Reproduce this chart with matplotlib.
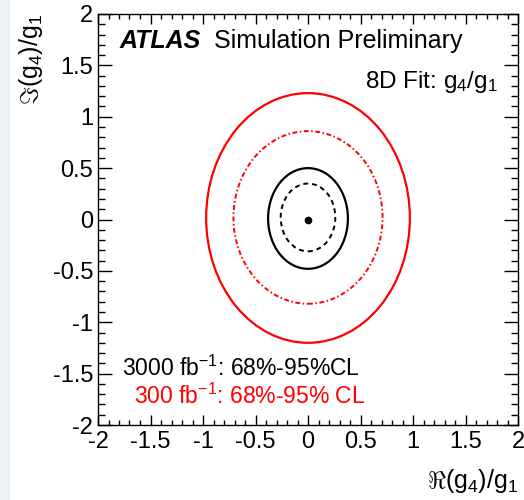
import matplotlib
matplotlib.use("Agg")
import matplotlib.pyplot as plt
from matplotlib.patches import Ellipse, Rectangle
from matplotlib.ticker import MultipleLocator, FixedLocator, FixedFormatter

plt.rcParams['font.family'] = ['Liberation Sans', 'DejaVu Sans']
plt.rcParams['mathtext.fontset'] = 'custom'
plt.rcParams['mathtext.rm'] = 'Liberation Sans'
plt.rcParams['mathtext.it'] = 'Liberation Sans:italic'
plt.rcParams['mathtext.bf'] = 'Liberation Sans:bold'
plt.rcParams['axes.unicode_minus'] = False

# ---- data (contour extents) ----
contour_names = ["3000 fb-1 68%", "3000 fb-1 95%", "300 fb-1 68%", "300 fb-1 95%"]
contour_cx = [0.0, 0.0, 0.0, 0.0]
contour_cy = [0.02, 0.01, 0.02, 0.015]
contour_width = [0.52, 0.76, 1.42, 1.94]
contour_height = [0.66, 0.98, 1.68, 2.43]
best_fit_x = [0.0]
best_fit_y = [0.0]
tick_values = [-2, -1.5, -1, -0.5, 0, 0.5, 1, 1.5, 2]
tick_labels = ["-2", "-1.5", "-1", "-0.5", "0", "0.5", "1", "1.5", "2"]

W, H = 524, 500
fig = plt.figure(figsize=(W / 100, H / 100), dpi=100)
fig.patches.append(Rectangle((0, 0), 10 / W, 1, transform=fig.transFigure,
                             facecolor='#eef3f8', edgecolor='none', zorder=0))

ax = fig.add_axes([98 / W, 1 - 425 / H, 420 / W, 411 / H])
ax.set_xlim(-2, 2)
ax.set_ylim(-2, 2)

styles = [
    dict(edgecolor='black', linestyle=(0, (2.5, 2)), linewidth=1.4),
    dict(edgecolor='black', linestyle='-', linewidth=1.6),
    dict(edgecolor='red', linestyle=(0, (2.5, 1.3, 0.8, 1.3)), linewidth=1.4),
    dict(edgecolor='red', linestyle='-', linewidth=1.6),
]
for cx, cy, w, h, st in zip(contour_cx, contour_cy, contour_width, contour_height, styles):
    ax.add_patch(Ellipse((cx, cy), w, h, facecolor='none', **st))

ax.plot(best_fit_x, best_fit_y, 'o', color='black', markersize=4.5)

for sp in ax.spines.values():
    sp.set_linewidth(1.0)

ax.xaxis.set_major_locator(FixedLocator(tick_values))
ax.xaxis.set_major_formatter(FixedFormatter(tick_labels))
ax.yaxis.set_major_locator(FixedLocator(tick_values))
ax.yaxis.set_major_formatter(FixedFormatter(tick_labels))
ax.xaxis.set_minor_locator(MultipleLocator(0.1))
ax.yaxis.set_minor_locator(MultipleLocator(0.1))
ax.tick_params(axis='both', which='both', direction='in', top=True, right=True,
               labelsize=17, width=1.0)
ax.tick_params(axis='x', which='major', length=7.2, pad=4.0)
ax.tick_params(axis='x', which='minor', length=3.6)
ax.tick_params(axis='y', which='major', length=10, pad=3.6)
ax.tick_params(axis='y', which='minor', length=5)

# axis titles
fig.text(518 / W, 1 - 488 / H, r'$\Re\mathrm{(g_{4})/g_{1}}$', ha='right', va='baseline',
         fontsize=18)
fig.text(31 / W, 1 - 14 / H, r'$\Im\mathrm{(g_{4})/g_{1}}$', ha='center', va='top',
         rotation=90, fontsize=18)

# ATLAS labels
fig.text(120 / W, 1 - 48 / H, 'ATLAS', fontsize=18, fontweight='bold', fontstyle='italic',
         ha='left', va='baseline')
fig.text(214 / W, 1 - 48 / H, 'Simulation Preliminary', fontsize=18,
         ha='left', va='baseline')
fig.text(498 / W, 1 - 88 / H, r'8D Fit: g$_{4}$/g$_{1}$', fontsize=17.5,
         ha='right', va='baseline')

fig.text(122 / W, 1 - 376 / H, r'3000 fb$^{-1}$: 68%-95%CL', fontsize=16.5,
         ha='left', va='baseline', color='black')
fig.text(134 / W, 1 - 404 / H, r'300 fb$^{-1}$: 68%-95% CL', fontsize=16.5,
         ha='left', va='baseline', color='red')

fig.savefig('out.png', dpi=100)
